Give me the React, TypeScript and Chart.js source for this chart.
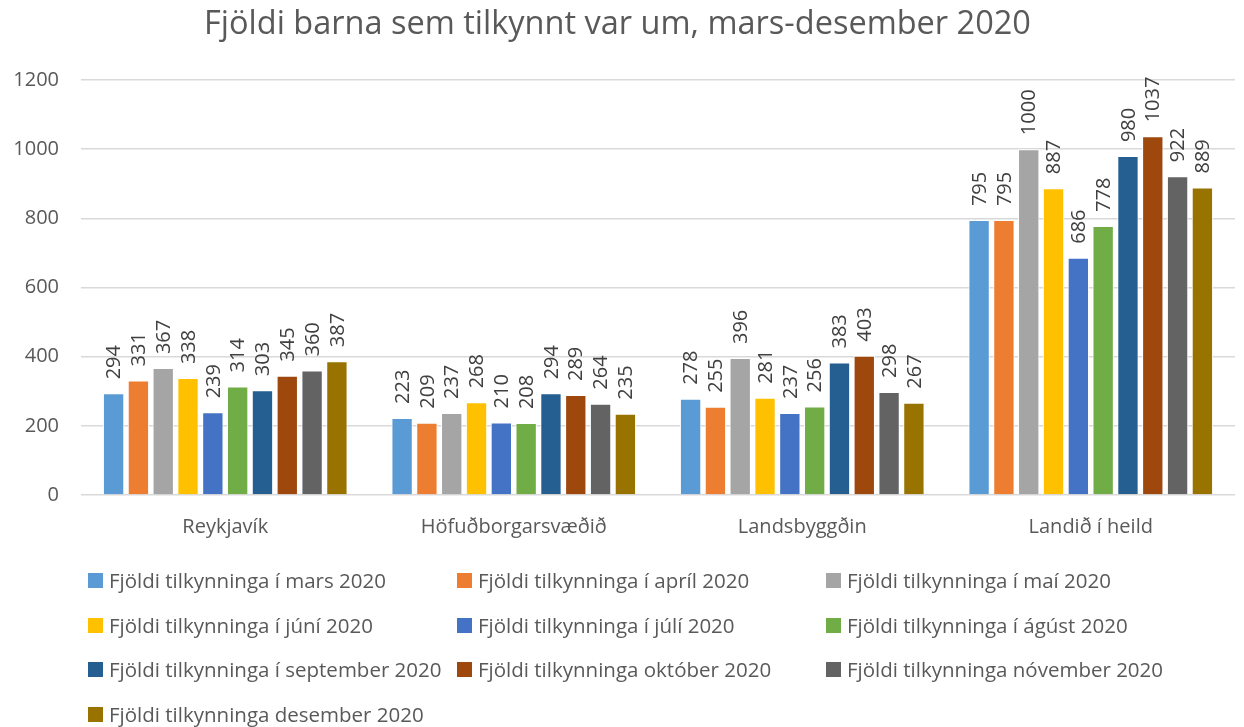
import React, { useEffect, useRef } from "react";
import { Chart, registerables } from "chart.js";

Chart.register(...registerables);

const title = "Fjöldi barna sem tilkynnt var um, mars-desember 2020";
const categories = ["Reykjavík", "Höfuðborgarsvæðið", "Landsbyggðin", "Landið í heild"];
const seriesNames = [
  "Fjöldi tilkynninga í mars 2020",
  "Fjöldi tilkynninga í apríl 2020",
  "Fjöldi tilkynninga í maí 2020",
  "Fjöldi tilkynninga í júní 2020",
  "Fjöldi tilkynninga í júlí 2020",
  "Fjöldi tilkynninga í ágúst 2020",
  "Fjöldi tilkynninga í september 2020",
  "Fjöldi tilkynninga október 2020",
  "Fjöldi tilkynninga nóvember 2020",
  "Fjöldi tilkynninga desember 2020",
];
const mars = [294, 223, 278, 795];
const april = [331, 209, 255, 795];
const mai = [367, 237, 396, 1000];
const juni = [338, 268, 281, 887];
const juli = [239, 210, 237, 686];
const agust = [314, 208, 256, 778];
const september = [303, 294, 383, 980];
const oktober = [345, 289, 403, 1037];
const november = [360, 264, 298, 922];
const desember = [387, 235, 267, 889];
const seriesValues = [mars, april, mai, juni, juli, agust, september, oktober, november, desember];
const colors = ["#5B9BD5", "#ED7D31", "#A5A5A5", "#FFC000", "#4472C4", "#70AD47", "#255E91", "#9E480E", "#636363", "#997300"];
const yTicks = [0, 200, 400, 600, 800, 1000, 1200];

const FONT = "'Open Sans', sans-serif";

const labelPlugin = {
  id: "barLabels",
  afterDatasetsDraw(chart: any) {
    const ctx = chart.ctx;
    ctx.save();
    ctx.font = `20px ${FONT}`;
    ctx.fillStyle = "#404040";
    ctx.textAlign = "left";
    ctx.textBaseline = "middle";
    chart.data.datasets.forEach((ds: any, i: number) => {
      const meta = chart.getDatasetMeta(i);
      meta.data.forEach((el: any, j: number) => {
        ctx.save();
        ctx.translate(el.x + 1, el.y - 14);
        ctx.rotate(-Math.PI / 2);
        ctx.fillText(String(ds.data[j]), 0, 0);
        ctx.restore();
      });
    });
    ctx.restore();
  },
};

export default function App() {
  const ref = useRef<HTMLCanvasElement>(null);
  useEffect(() => {
    if (!ref.current) return;
    const chart = new Chart(ref.current, {
      type: "bar",
      data: {
        labels: categories,
        datasets: seriesNames.map((n, i) => ({
          label: n,
          data: seriesValues[i],
          backgroundColor: colors[i],
          borderColor: "#FFFFFF",
          borderWidth: 1,
          categoryPercentage: 0.86,
          barPercentage: 0.86,
        })),
      },
      options: {
        animation: false,
        responsive: false,
        maintainAspectRatio: false,
        layout: { padding: { left: 0, right: 9, top: 0, bottom: 0 } },
        plugins: {
          legend: { display: false },
          tooltip: { enabled: false },
          title: {
            display: true,
            text: title,
            color: "#595959",
            font: { family: FONT, size: 32.5, weight: "normal" },
            padding: { top: 5, bottom: 36 },
          },
        },
        scales: {
          x: {
            grid: { display: false },
            border: { display: false },
            ticks: { color: "#595959", font: { family: FONT, size: 20 }, padding: 12 },
            afterFit(scale: any) {
              scale.height = 232;
            },
          },
          y: {
            min: 0,
            max: 1200,
            afterBuildTicks(scale: any) {
              scale.ticks = yTicks.map((v) => ({ value: v }));
            },
            grid: { color: "#D9D9D9", lineWidth: 1.5, drawTicks: false },
            border: { display: false },
            ticks: {
              color: "#595959",
              font: { family: FONT, size: 20 },
              padding: 22,
              callback: (v: any) => String(v),
            },
            afterFit(scale: any) {
              scale.width = 81;
            },
          },
        },
      },
      plugins: [labelPlugin],
    });
    return () => chart.destroy();
  }, []);

  const colLeft = [88, 457, 826];
  const rowTop = [580, 625, 669, 714];

  return (
    <div style={{ position: "absolute", left: 0, top: 0, width: 1244, height: 727, background: "#fff" }}>
      <canvas ref={ref} width={1244} height={727} style={{ position: "absolute", left: 0, top: 0, width: 1244, height: 727 }} />
      {seriesNames.map((n, i) => (
        <div
          key={n}
          style={{
            position: "absolute",
            left: colLeft[i % 3],
            top: rowTop[Math.floor(i / 3)] - 15,
            height: 30,
            display: "flex",
            alignItems: "center",
            whiteSpace: "nowrap",
            fontFamily: FONT,
            fontSize: 20.5,
            color: "#595959",
          }}
        >
          <span style={{ display: "inline-block", width: 15, height: 15, background: colors[i], marginRight: 6 }} />
          <span>{n}</span>
        </div>
      ))}
    </div>
  );
}
